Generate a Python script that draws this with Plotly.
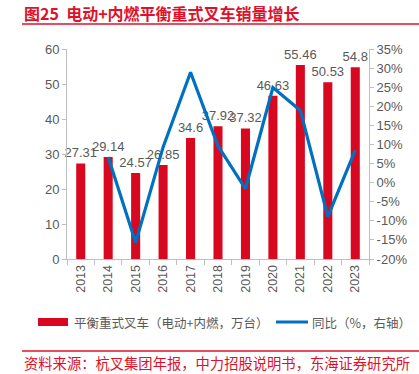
import plotly.graph_objects as go

years = ["2013", "2014", "2015", "2016", "2017", "2018", "2019", "2020", "2021", "2022", "2023"]
sales = [27.31, 29.14, 24.57, 26.85, 34.6, 37.92, 37.32, 46.63, 55.46, 50.53, 54.8]
sales_text = ["27.31", "29.14", "24.57", "26.85", "34.6", "37.92", "37.32", "46.63", "55.46", "50.53", "54.8"]
yoy = [None, 6.7, -15.7, 9.3, 28.9, 9.6, -1.6, 24.9, 18.9, -8.9, 8.5]
left_ticks = [0, 10, 20, 30, 40, 50, 60]
right_ticks = [-20, -15, -10, -5, 0, 5, 10, 15, 20, 25, 30, 35]

RED = "#D7081F"
BLUE = "#0070C0"
GRAY = "#595959"
AXIS = "#BFBFBF"
TRED = "#E0102A"
FONT = "Liberation Sans, Arial, Noto Sans CJK SC"
CJK = "Noto Sans CJK SC, Liberation Sans"

fig = go.Figure()
fig.add_trace(go.Bar(
    x=years, y=sales, marker_color=RED, marker_line_width=0,
    text=sales_text, textposition="outside", constraintext="none", cliponaxis=False,
    textfont=dict(size=13, color=GRAY, family=FONT), name="平衡重式叉车（电动+内燃，万台）",
    showlegend=False,
))
fig.add_trace(go.Scatter(
    x=years, y=yoy, yaxis="y2", mode="lines", line=dict(color=BLUE, width=3.2),
    name="同比（%，右轴）", showlegend=False, connectgaps=False,
))

W, H = 419, 374
L, R, T, B = 67, 369, 49, 259

def px(x):
    return (x - L) / (R - L)

def py(y):
    return (B - y) / (B - T)

fig.update_layout(
    width=W, height=H,
    margin=dict(l=L, r=W - R, t=T, b=H - B),
    paper_bgcolor="white", plot_bgcolor="white",
    bargap=0.67,
    font=dict(family=FONT, color=GRAY, size=13),
    xaxis=dict(
        type="category", tickangle=-90, showline=True, linecolor=AXIS, linewidth=1,
        ticks="outside", tickson="boundaries", ticklen=5, tickcolor=AXIS,
        tickfont=dict(size=12.5, color=GRAY), showgrid=False,
    ),
    yaxis=dict(
        range=[0, 60], tickvals=left_ticks, showline=True, linecolor=AXIS, linewidth=1,
        ticks="outside", ticklen=4, tickcolor=AXIS, showgrid=False, zeroline=False,
        tickfont=dict(size=13, color=GRAY),
    ),
    yaxis2=dict(
        range=[-20, 35], tickvals=right_ticks, ticktext=[f"{v}%" for v in right_ticks],
        overlaying="y", side="right", showline=True, linecolor=AXIS, linewidth=1,
        ticks="outside", ticklen=4, tickcolor=AXIS, showgrid=False, zeroline=False,
        tickfont=dict(size=13, color=GRAY),
    ),
)

shapes = [
    dict(type="line", xref="paper", yref="paper", x0=px(22), x1=px(419), y0=py(24), y1=py(24),
         line=dict(color=TRED, width=1.5)),
    dict(type="line", xref="paper", yref="paper", x0=px(22), x1=px(419), y0=py(351), y1=py(351),
         line=dict(color=TRED, width=1.5)),
    dict(type="rect", xref="paper", yref="paper", x0=px(38), x1=px(68), y0=py(318), y1=py(326),
         fillcolor=RED, line=dict(width=0)),
    dict(type="line", xref="paper", yref="paper", x0=px(276), x1=px(308), y0=py(322), y1=py(322),
         line=dict(color=BLUE, width=3)),
]
annotations = [
    dict(text="<b>图25  电动+内燃平衡重式叉车销量增长</b>", xref="paper", yref="paper",
         x=px(22), y=py(13), xanchor="left", yanchor="middle", showarrow=False,
         font=dict(family=CJK, size=16, color=TRED)),
    dict(text="平衡重式叉车（电动+内燃，万台）", xref="paper", yref="paper",
         x=px(72), y=py(322), xanchor="left", yanchor="middle", showarrow=False,
         font=dict(family=CJK, size=12.5, color=GRAY)),
    dict(text="同比（%，右轴）", xref="paper", yref="paper",
         x=px(310), y=py(322), xanchor="left", yanchor="middle", showarrow=False,
         font=dict(family=CJK, size=12.5, color=GRAY)),
    dict(text="资料来源：杭叉集团年报，中力招股说明书，东海证券研究所", xref="paper", yref="paper",
         x=px(22), y=py(362), xanchor="left", yanchor="middle", showarrow=False,
         font=dict(family=CJK, size=14.3, color=TRED)),
]
fig.update_layout(shapes=shapes, annotations=annotations)

fig.write_html("out.html", config={"displayModeBar": False},
               post_script="document.body.style.margin='0';document.body.style.overflow='hidden';")
